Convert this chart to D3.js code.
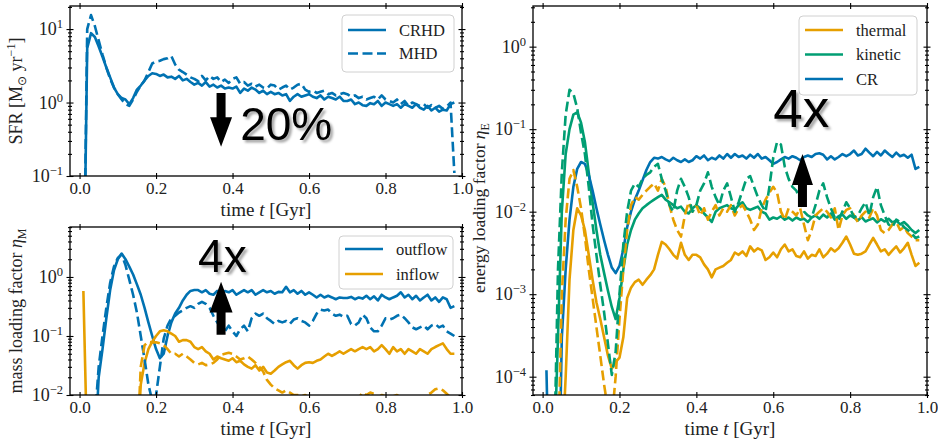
<!DOCTYPE html>
<html><head><meta charset="utf-8">
<script src="https://cdn.jsdelivr.net/npm/d3@7/dist/d3.min.js"></script>
<style>body{margin:0;background:#fff}svg{display:block}</style>
</head><body>
<svg id="c" width="938" height="441"></svg>
<script>
// ---------------- DATA ----------------
const time = [0.00,0.01,0.02,0.03,0.04,0.05,0.06,0.07,0.08,0.09,
 0.10,0.11,0.12,0.13,0.14,0.15,0.16,0.17,0.18,0.19,
 0.20,0.21,0.22,0.23,0.24,0.25,0.26,0.27,0.28,0.29,
 0.30,0.31,0.32,0.33,0.34,0.35,0.36,0.37,0.38,0.39,
 0.40,0.41,0.42,0.43,0.44,0.45,0.46,0.47,0.48,0.49,
 0.50,0.51,0.52,0.53,0.54,0.55,0.56,0.57,0.58,0.59,
 0.60,0.61,0.62,0.63,0.64,0.65,0.66,0.67,0.68,0.69,
 0.70,0.71,0.72,0.73,0.74,0.75,0.76,0.77,0.78,0.79,
 0.80,0.81,0.82,0.83,0.84,0.85,0.86,0.87,0.88,0.89,
 0.90,0.91,0.92,0.93,0.94,0.95,0.96,0.97,0.98];

// SFR [Msun/yr]
const sfrCRHD = [null,0.001,5.5,8.8,7.8,5.8,4.2,3.0,2.2,1.6,
 1.3,1.15,1.1,0.95,1.15,1.5,1.7,2.0,2.3,2.5,
 2.45,2.3,2.4,2.2,2.25,2.1,2.3,2.0,2.1,1.9,
 1.75,1.85,1.7,1.9,1.65,1.75,1.6,1.7,1.55,1.6,
 1.55,1.65,1.35,1.55,1.45,1.6,1.5,1.35,1.45,1.3,
 1.4,1.3,1.35,1.25,1.3,1.05,1.2,1.3,1.2,1.25,
 1.3,1.2,1.15,1.25,1.1,1.2,1.15,1.1,1.2,1.05,
 1.05,1.1,0.95,1.0,0.92,0.9,0.98,0.95,1.05,0.9,
 1.0,0.95,0.9,0.95,0.85,0.95,0.9,0.85,0.95,0.85,
 0.8,0.9,0.78,0.85,0.75,0.8,0.78,0.95,1.0];
const sfrMHD = [null,0.001,10,15.5,11,7,4.5,3.0,2.1,1.6,
 1.3,1.1,0.95,0.9,1.1,1.4,1.7,2.0,2.6,3.4,
 3.6,3.7,3.9,4.0,4.3,3.3,2.8,2.6,2.4,2.2,
 2.1,1.95,2.3,2.0,2.3,2.1,2.2,1.9,2.05,1.85,
 2.1,2.2,1.8,1.9,1.7,1.8,1.65,1.75,1.6,1.55,
 1.75,1.7,1.5,1.6,1.7,1.5,1.6,1.75,1.8,1.5,
 1.4,1.45,1.35,1.4,1.45,1.3,1.35,1.25,1.3,1.35,
 1.3,1.2,1.25,1.15,1.2,1.1,1.15,1.2,1.1,1.25,
 1.1,1.05,1.0,1.1,0.95,1.05,0.9,1.0,0.95,0.9,
 0.95,0.85,0.92,0.85,0.9,0.82,0.88,1.0,0.11];

// mass loading factor
const outflowCRHD = [null,null,null,null,0.001,0.02,0.06,0.2,0.6,1.3,
 2.0,2.5,2.0,1.5,1.1,0.75,0.5,0.3,0.17,0.1,
 0.06,0.042,0.05,0.1,0.17,0.24,0.3,0.4,0.5,0.58,
 0.6,0.6,0.55,0.6,0.52,0.5,0.58,0.52,0.58,0.55,
 0.6,0.5,0.55,0.6,0.55,0.6,0.5,0.55,0.6,0.55,
 0.58,0.52,0.56,0.55,0.68,0.55,0.6,0.52,0.58,0.5,
 0.55,0.5,0.45,0.5,0.45,0.48,0.45,0.42,0.45,0.44,
 0.44,0.46,0.42,0.45,0.43,0.48,0.42,0.47,0.4,0.5,
 0.45,0.42,0.45,0.48,0.55,0.45,0.5,0.42,0.48,0.4,
 0.45,0.5,0.4,0.45,0.38,0.45,0.42,0.3,0.32];
const outflowMHD = [null,null,null,null,0.004,0.03,0.1,0.3,0.8,1.5,
 2.1,2.4,1.6,0.9,0.5,0.25,0.1,0.04,0.015,0.008,
 0.01,0.03,0.09,0.15,0.2,0.22,0.25,0.27,0.3,0.32,
 0.3,0.35,0.38,0.35,0.3,0.22,0.17,0.14,0.12,0.15,
 0.12,0.1,0.13,0.15,0.12,0.2,0.24,0.22,0.24,0.2,
 0.18,0.16,0.18,0.17,0.18,0.16,0.19,0.2,0.18,0.17,
 0.15,0.18,0.24,0.28,0.27,0.28,0.24,0.22,0.23,0.21,
 0.22,0.16,0.15,0.17,0.23,0.2,0.14,0.12,0.12,0.15,
 0.2,0.19,0.2,0.22,0.23,0.2,0.17,0.14,0.13,0.14,
 0.15,0.13,0.15,0.16,0.14,0.15,0.12,0.11,0.1];
const inflowCRHD = [null,0.58,0.001,null,null,null,null,null,null,null,
 null,null,null,null,null,0.001,0.015,0.035,0.06,0.08,
 0.1,0.12,0.125,0.12,0.11,0.1,0.08,0.085,0.085,0.08,
 0.065,0.06,0.065,0.055,0.05,0.04,0.045,0.042,0.04,0.038,
 0.042,0.036,0.038,0.033,0.03,0.028,0.032,0.026,0.03,0.024,
 0.023,0.026,0.03,0.033,0.036,0.038,0.032,0.028,0.032,0.035,
 0.036,0.035,0.038,0.04,0.045,0.05,0.046,0.05,0.055,0.05,
 0.055,0.06,0.055,0.06,0.065,0.06,0.065,0.055,0.06,0.07,
 0.06,0.05,0.065,0.055,0.06,0.05,0.06,0.055,0.05,0.06,
 0.055,0.05,0.06,0.065,0.07,0.075,0.06,0.05,0.05];
const inflowMHD = [null,null,null,null,null,null,null,null,null,null,
 null,null,null,null,null,0.001,0.03,0.07,0.08,0.078,
 0.078,0.075,0.07,0.06,0.05,0.05,0.045,0.05,0.045,0.04,
 0.035,0.033,0.035,0.032,0.033,0.035,0.04,0.048,0.05,0.052,
 0.05,0.045,0.04,0.042,0.045,0.04,0.035,0.03,0.025,0.018,
 0.015,0.013,0.012,0.011,0.012,0.011,0.01,0.01,0.0095,0.01,
 0.009,0.008,0.007,0.007,0.007,0.007,0.007,0.007,0.007,0.007,
 0.007,0.007,0.007,0.009,0.011,0.01,0.011,0.0105,0.009,0.01,
 0.0095,0.009,0.0095,0.01,0.009,0.0095,0.009,0.0095,0.009,0.0095,
 0.009,0.01,0.011,0.0125,0.013,0.012,0.0105,0.009,0.009];

// energy loading factor
const thermalCRHD = [null,null,null,null,null,0.00001,0.0001,0.0015,0.006,0.011,
 0.009,0.006,0.003,0.0015,0.0008,0.0005,0.0003,0.00018,0.000125,0.00015,
 0.00017,0.0003,0.0009,0.0012,0.0014,0.0015,0.0013,0.0015,0.0017,0.002,
 0.003,0.0043,0.004,0.0035,0.003,0.0027,0.0042,0.003,0.0026,0.003,
 0.003,0.0028,0.0023,0.002,0.0016,0.002,0.0021,0.0022,0.0024,0.0026,
 0.0032,0.003,0.0033,0.0029,0.0038,0.0033,0.0036,0.0034,0.0026,0.0028,
 0.0032,0.0028,0.0035,0.004,0.0033,0.0035,0.0029,0.0028,0.0033,0.0027,
 0.003,0.0029,0.0035,0.0028,0.0031,0.0036,0.0033,0.0036,0.0042,0.005,
 0.004,0.0031,0.003,0.0031,0.0033,0.004,0.0048,0.004,0.0033,0.0035,
 0.003,0.0034,0.0038,0.0032,0.0036,0.0042,0.003,0.0022,0.0024];
const thermalMHD = [null,null,null,null,0.00001,0.001,0.008,0.025,0.032,0.02,
 0.011,0.005,0.002,0.0009,0.0004,0.00018,0.00008,0.00004,0.00003,0.0001,
 0.0005,0.002,0.006,0.012,0.015,0.014,0.016,0.018,0.02,0.022,
 0.018,0.025,0.02,0.012,0.008,0.006,0.005,0.009,0.013,0.01,
 0.012,0.009,0.011,0.008,0.01,0.012,0.009,0.011,0.01,0.012,
 0.009,0.011,0.012,0.01,0.008,0.006,0.007,0.011,0.014,0.017,
 0.02,0.017,0.01,0.008,0.011,0.01,0.009,0.011,0.007,0.0045,
 0.006,0.009,0.01,0.011,0.01,0.0085,0.011,0.006,0.009,0.0105,
 0.011,0.009,0.0075,0.009,0.01,0.0085,0.011,0.009,0.006,0.0055,
 0.006,0.007,0.0075,0.006,0.0065,0.0055,0.005,0.0045,0.0045];
const kineticCRHD = [null,null,null,0.00001,0.0003,0.01,0.05,0.1,0.15,0.16,
 0.12,0.07,0.03,0.013,0.006,0.003,0.0018,0.0011,0.0007,0.0005,
 0.0009,0.002,0.004,0.006,0.008,0.0095,0.011,0.012,0.013,0.014,
 0.015,0.016,0.014,0.013,0.012,0.011,0.0115,0.01,0.0095,0.011,
 0.012,0.011,0.0095,0.0085,0.0075,0.01,0.011,0.0115,0.012,0.011,
 0.0105,0.012,0.013,0.011,0.0105,0.011,0.0115,0.01,0.0095,0.008,
 0.0085,0.0082,0.0088,0.008,0.0085,0.0078,0.0085,0.008,0.0082,0.0075,
 0.0085,0.009,0.0082,0.0092,0.0085,0.0095,0.008,0.0088,0.0092,0.0082,
 0.009,0.0085,0.0078,0.0086,0.0076,0.008,0.0083,0.0074,0.0081,0.0076,
 0.0082,0.0074,0.0078,0.007,0.0075,0.0068,0.006,0.0055,0.006];
const kineticMHD = [null,null,null,0.00001,0.002,0.03,0.15,0.3,0.27,0.18,
 0.09,0.05,0.02,0.007,0.003,0.0013,0.0006,0.00025,0.000105,0.0002,
 0.001,0.004,0.01,0.018,0.022,0.02,0.025,0.028,0.03,0.035,
 0.038,0.025,0.018,0.012,0.01,0.018,0.025,0.02,0.015,0.01,
 0.012,0.018,0.022,0.03,0.02,0.015,0.012,0.018,0.022,0.015,
 0.01,0.013,0.018,0.025,0.027,0.02,0.015,0.012,0.01,0.02,
 0.045,0.07,0.065,0.035,0.025,0.02,0.018,0.014,0.01,0.009,
 0.0085,0.012,0.018,0.022,0.015,0.011,0.0085,0.008,0.01,0.013,
 0.011,0.0085,0.009,0.011,0.013,0.009,0.015,0.02,0.012,0.009,
 0.007,0.0065,0.008,0.0075,0.0065,0.006,0.0055,0.0048,0.005];
const crCRHD = [null,0.00012,0.000001,null,0.000001,0.0003,0.002,0.008,0.02,0.033,
 0.04,0.038,0.028,0.018,0.011,0.007,0.0045,0.003,0.0021,0.0018,
 0.0022,0.0035,0.0065,0.01,0.014,0.018,0.024,0.032,0.04,0.045,
 0.044,0.046,0.043,0.041,0.045,0.042,0.04,0.043,0.04,0.042,
 0.047,0.044,0.048,0.042,0.045,0.043,0.048,0.044,0.05,0.045,
 0.05,0.046,0.048,0.044,0.049,0.045,0.05,0.044,0.046,0.042,
 0.038,0.04,0.043,0.046,0.044,0.047,0.045,0.042,0.046,0.048,
 0.046,0.05,0.051,0.049,0.043,0.047,0.043,0.046,0.05,0.047,
 0.05,0.055,0.048,0.05,0.058,0.052,0.047,0.053,0.048,0.055,
 0.05,0.046,0.052,0.047,0.049,0.045,0.049,0.033,0.035];

const xTickValues = [0.0,0.2,0.4,0.6,0.8,1.0];
const xTickLabels = ["0.0","0.2","0.4","0.6","0.8","1.0"];
const sfrTicks = [0.1,1,10];
const massTicks = [0.01,0.1,1];
const energyTicks = [0.0001,0.001,0.01,0.1,1];
const sfrLegend = ["CRHD","MHD"];
const massLegend = ["outflow","inflow"];
const energyLegend = ["thermal","kinetic","CR"];

// ---------------- STYLE ----------------
const BLUE="#0072b2", ORANGE="#e69f00", GREEN="#009e73";
const SERIF="'Liberation Serif','Times New Roman',serif";
const SANS="'Liberation Sans',Arial,Helvetica,sans-serif";
const LW=2.6, DASH="10,4.5";
const svg=d3.select("#c");
const defs=svg.append("defs");
const f=defs.append("filter").attr("id","shadow").attr("x","-20%").attr("y","-20%").attr("width","150%").attr("height","150%");
f.append("feDropShadow").attr("dx",2.5).attr("dy",2.5).attr("stdDeviation",1.2).attr("flood-color","#000").attr("flood-opacity",0.35);

const xDomain=[-0.025,1.0];

function panel(p){
  const x=d3.scaleLinear().domain(xDomain).range([p.l,p.r]);
  const y=d3.scaleLog().domain(p.yDomain).range([p.b,p.t]);
  const g=svg.append("g");
  defs.append("clipPath").attr("id","clip-"+p.name).append("rect")
    .attr("x",p.l).attr("y",p.t).attr("width",p.r-p.l).attr("height",p.b-p.t);
  const lg=g.append("g").attr("clip-path",`url(#clip-${p.name})`);
  p.series.forEach(s=>{
    const line=d3.line().defined(d=>d!=null).x((d,i)=>x(time[i])).y(d=>y(d));
    lg.append("path").datum(s.values).attr("d",line)
      .attr("fill","none").attr("stroke",s.color).attr("stroke-width",LW)
      .attr("stroke-linejoin","round")
      .attr("stroke-dasharray",s.dashed?DASH:null);
  });
  g.append("rect").attr("x",p.l).attr("y",p.t).attr("width",p.r-p.l).attr("height",p.b-p.t)
    .attr("fill","none").attr("stroke","#000").attr("stroke-width",1.3);
  const [lo,hi]=p.yDomain;
  const minors=y.ticks().filter(v=>{const l=Math.log10(v);return Math.abs(l-Math.round(l))>1e-6 && v>=lo && v<=hi;});
  function styleTicks(sel,len,horiz){
    sel.select(".domain").remove();
    sel.selectAll(".tick line").attr("stroke","#000").attr("stroke-width",1.1);
    if(horiz) sel.selectAll(".tick line").attr("y1",-len).attr("y2",len);
    else sel.selectAll(".tick line").attr("x1",-len).attr("x2",len);
  }
  const gxb=g.append("g").attr("transform",`translate(0,${p.b})`)
    .call(d3.axisBottom(x).tickValues(xTickValues).tickFormat((d,i)=>xTickLabels[i]).tickSize(3).tickPadding(3));
  styleTicks(gxb,3,true);
  gxb.selectAll("text").attr("font-family",SERIF).attr("font-size",17).attr("fill","#222");
  const gxt=g.append("g").attr("transform",`translate(0,${p.t})`)
    .call(d3.axisTop(x).tickValues(xTickValues).tickFormat("").tickSize(3));
  styleTicks(gxt,3,true);
  const gyl=g.append("g").attr("transform",`translate(${p.l},0)`)
    .call(d3.axisLeft(y).tickValues(p.yTicks).tickSize(3).tickPadding(4).tickFormat(d=>""));
  styleTicks(gyl,3.5,false);
  gyl.selectAll(".tick text").each(function(d){
    const t=d3.select(this).attr("font-family",SERIF).attr("font-size",18).attr("fill","#222");
    const e=Math.round(Math.log10(d));
    t.append("tspan").text("10");
    t.append("tspan").attr("dy",-7).attr("font-size",12.5).text(String(e).replace("-","\u2212"));
  });
  const gylm=g.append("g").attr("transform",`translate(${p.l},0)`)
    .call(d3.axisLeft(y).tickValues(minors).tickSize(2).tickFormat(""));
  styleTicks(gylm,2,false);
  const gyr=g.append("g").attr("transform",`translate(${p.r},0)`)
    .call(d3.axisRight(y).tickValues(p.yTicks).tickSize(3).tickFormat(""));
  styleTicks(gyr,3.5,false);
  const gyrm=g.append("g").attr("transform",`translate(${p.r},0)`)
    .call(d3.axisRight(y).tickValues(minors).tickSize(2).tickFormat(""));
  styleTicks(gyrm,2,false);
  const xl=g.append("text").attr("x",(p.l+p.r)/2).attr("y",p.xlabelY).attr("text-anchor","middle")
    .attr("font-family",SERIF).attr("font-size",19).attr("fill","#222");
  xl.append("tspan").text("time ");
  xl.append("tspan").attr("font-style","italic").text("t");
  xl.append("tspan").text(" [Gyr]");
  const yl=g.append("text").attr("transform",`translate(${p.ylabelX},${p.ylabelY!=null?p.ylabelY:(p.t+p.b)/2}) rotate(-90)`)
    .attr("text-anchor","middle").attr("font-family",SERIF).attr("font-size",p.ylabelSize||18).attr("fill","#222");
  p.ylabel(yl);
  const L=p.legend;
  const lgd=g.append("g");
  lgd.append("rect").attr("x",L.x).attr("y",L.y).attr("width",L.w).attr("height",L.h)
    .attr("rx",4).attr("fill","#fff").attr("fill-opacity",0.85).attr("stroke","#d0d0d0").attr("stroke-width",1);
  L.items.forEach((it,i)=>{
    const yy=L.y+L.first+i*L.step;
    lgd.append("line").attr("x1",L.x+6).attr("x2",L.x+44).attr("y1",yy).attr("y2",yy)
      .attr("stroke",it.color).attr("stroke-width",LW).attr("stroke-dasharray",it.dashed?DASH:null);
    lgd.append("text").attr("x",L.x+57).attr("y",yy+5.5).attr("font-family",SERIF).attr("font-size",16.5)
      .attr("fill","#222").text(it.label);
  });
  return {x,y,g};
}

function arrow(g,x,y,t,yTail,yHeadBase,yTip,shaftW,headW){
  const xc=x(t), a=y(yTail), b=y(yHeadBase), c=y(yTip);
  const pts=[[xc-shaftW/2,a],[xc+shaftW/2,a],[xc+shaftW/2,b],[xc+headW/2,b],[xc,c],[xc-headW/2,b],[xc-shaftW/2,b]];
  g.append("path").attr("d","M"+pts.map(p=>p.join(",")).join("L")+"Z").attr("fill","#000");
}
function bigText(g,x,y,t,v,txt,size){
  g.append("text").attr("x",x(t)).attr("y",y(v)).attr("font-family",SANS).attr("font-size",size)
    .attr("fill","#000").attr("filter","url(#shadow)").text(txt);
}

// ---------------- PANELS ----------------
const p1=panel({name:"sfr",l:70,r:462,t:6,b:176,yDomain:[0.1,20.6],yTicks:sfrTicks,
  xlabelY:216,ylabelX:22,
  series:[{values:sfrCRHD,color:BLUE,dashed:false},{values:sfrMHD,color:BLUE,dashed:true}],
  ylabel:t=>{t.append("tspan").text("SFR [M");t.append("tspan").attr("font-size",12).attr("dy",4).text("\u2299");
    t.append("tspan").attr("dy",-4).text(" yr");t.append("tspan").attr("font-size",12).attr("dy",-7).text("\u22121");
    t.append("tspan").attr("dy",7).text("]");},
  legend:{x:342,y:15,w:112,h:57,first:15,step:23.5,items:[{label:sfrLegend[0],color:BLUE,dashed:false},{label:sfrLegend[1],color:BLUE,dashed:true}]}
});
arrow(p1.g,p1.x,p1.y,0.37,1.35,0.63,0.25,9,22);
bigText(p1.g,p1.x,p1.y,0.42,0.31,"20%",46);

const p2=panel({name:"mass",l:70,r:462,t:227,b:395,yDomain:[0.01,7.03],yTicks:massTicks,
  xlabelY:435,ylabelX:22,
  series:[{values:outflowCRHD,color:BLUE,dashed:false},{values:inflowCRHD,color:ORANGE,dashed:false},
          {values:outflowMHD,color:BLUE,dashed:true},{values:inflowMHD,color:ORANGE,dashed:true}],
  ylabel:t=>{t.append("tspan").text("mass loading factor ");t.append("tspan").attr("font-style","italic").text("\u03b7");
    t.append("tspan").attr("font-size",12).attr("dy",4).text("M");},
  legend:{x:339,y:236,w:114,h:53,first:13,step:25,items:[{label:massLegend[0],color:BLUE,dashed:false},{label:massLegend[1],color:ORANGE,dashed:false}]}
});
arrow(p2.g,p2.x,p2.y,0.37,0.105,0.25,0.83,9,23);
bigText(p2.g,p2.x,p2.y,0.31,1.23,"4x",46);

const p3=panel({name:"energy",l:533,r:927,t:6,b:395,yDomain:[6.0e-5,3.11],yTicks:energyTicks,
  xlabelY:435,ylabelX:485,ylabelY:208,ylabelSize:17.5,
  series:[{values:thermalCRHD,color:ORANGE,dashed:false},{values:kineticCRHD,color:GREEN,dashed:false},
          {values:crCRHD,color:BLUE,dashed:false},
          {values:thermalMHD,color:ORANGE,dashed:true},{values:kineticMHD,color:GREEN,dashed:true}],
  ylabel:t=>{t.append("tspan").text("energy loading factor ");t.append("tspan").attr("font-style","italic").text("\u03b7");
    t.append("tspan").attr("font-size",12).attr("dy",4).text("E");},
  legend:{x:799,y:16,w:118,h:79,first:14,step:24.5,items:[{label:energyLegend[0],color:ORANGE,dashed:false},{label:energyLegend[1],color:GREEN,dashed:false},{label:energyLegend[2],color:BLUE,dashed:false}]}
});
arrow(p3.g,p3.x,p3.y,0.676,0.0114,0.021,0.05,9,21);
bigText(p3.g,p3.x,p3.y,0.6,0.106,"4x",53);
</script>
</body></html>
